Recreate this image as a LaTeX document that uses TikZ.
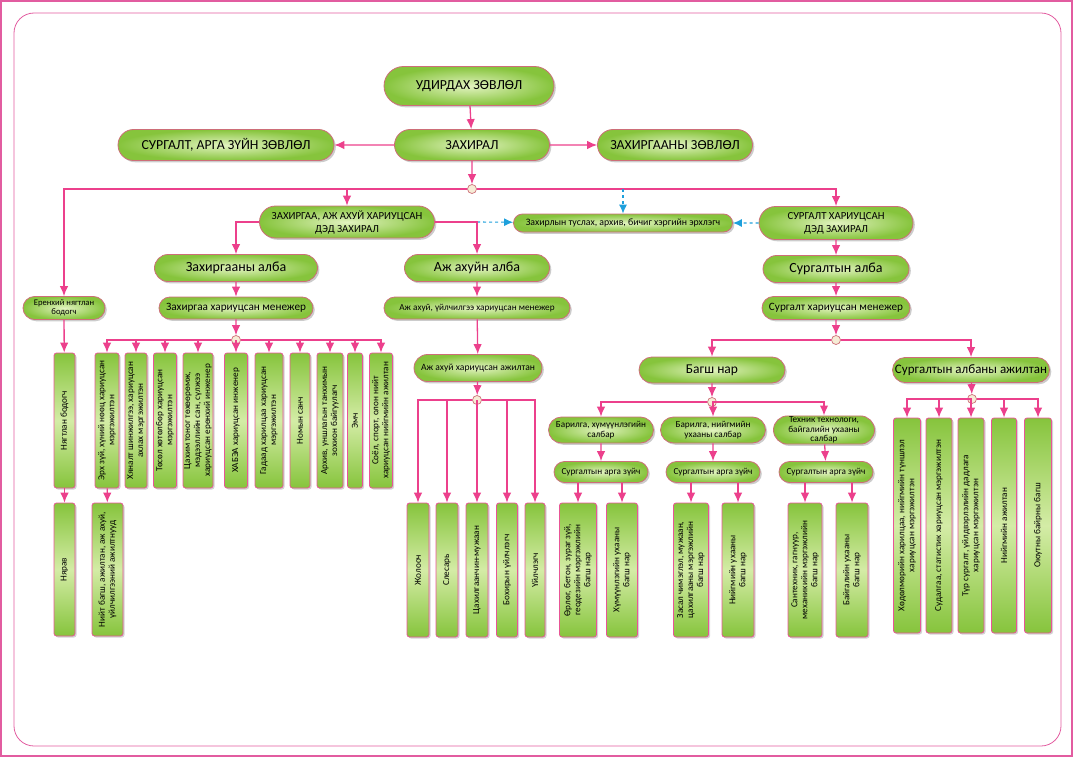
\documentclass[tikz,border=0pt]{standalone}
\usepackage{fontspec}
\setmainfont{Carlito}
\usetikzlibrary{arrows.meta,shapes.misc,shadows}

\definecolor{linkpink}{RGB}{236,64,140}
\definecolor{linkblue}{RGB}{30,160,220}
\definecolor{framepink}{RGB}{226,92,160}
\definecolor{pillrim}{RGB}{205,110,120}
\definecolor{boxrim}{RGB}{232,85,150}
\definecolor{greenout}{RGB}{134,196,60}
\definecolor{greenin}{RGB}{226,243,192}
\definecolor{greenmid}{RGB}{212,236,166}
\definecolor{knobfill}{RGB}{246,236,214}

\tikzset{
    fs/.style 2 args={font=\fontsize{#1}{#2}\selectfont},
    pill/.style={rounded rectangle, draw=pillrim, line width=0.8pt,
        inner color=greenin, outer color=greenout, align=center, inner sep=1pt,
        drop shadow={shadow xshift=1.8pt, shadow yshift=-1.8pt, opacity=0.4}},
    vbox/.style 2 args={rectangle, rounded corners=2.5pt, draw=boxrim, line width=0.8pt,
        top color=greenout, bottom color=greenout, middle color=greenmid,
        rotate=90, minimum width=#1, minimum height=#2, inner sep=0pt, align=center,
        font=\fontsize{9.2}{10}\selectfont,
        drop shadow={shadow xshift=1.5pt, shadow yshift=-1.5pt, opacity=0.35}},
    knob/.style={circle, draw=pillrim, fill=knobfill, line width=0.7pt, minimum size=9pt, inner sep=0pt},
    conn/.style={color=linkpink, line width=1.3pt, -{Latex[length=10pt,width=8.5pt]}},
    helper/.style={color=linkblue, line width=1.1pt, dashed, -{Latex[length=9pt,width=8pt]}},
}

\begin{document}
\begin{tikzpicture}[x=1pt,y=-1pt]
  \useasboundingbox (0,0) rectangle (1073,757);
  \draw[framepink, line width=1.6pt] (0.8,0.8) rectangle (1072.2,756.2);
  \draw[framepink, line width=0.8pt, rounded corners=20pt] (14,13) rectangle (1061,746);

  % top levels
  \node[pill, minimum width=172, minimum height=39, fs={13.8}{16}] (udird) at (469,86) {УДИРДАХ ЗӨВЛӨЛ};
  \node[pill, minimum width=157, minimum height=31, fs={13.8}{16}] (zaxiral) at (472,145) {ЗАХИРАЛ};
  \node[pill, minimum width=218, minimum height=31, fs={13.8}{16}] (argazuin) at (226,145) {СУРГАЛТ, АРГА ЗҮЙН ЗӨВЛӨЛ};
  \node[pill, minimum width=157, minimum height=31, fs={13.8}{16}] (zaxzovlol) at (675,145) {ЗАХИРГААНЫ ЗӨВЛӨЛ};
  \node[knob] (j0) at (472,189) {};

  \node[pill, minimum width=177, minimum height=32, fs={10.8}{13}] (zdz) at (347,222) {ЗАХИРГАА, АЖ АХУЙ ХАРИУЦСАН\\ДЭД ЗАХИРАЛ};
  \node[pill, minimum width=221, minimum height=18, fs={9.8}{11}] (tuslah) at (623,223) {Захирлын туслах, архив, бичиг хэргийн эрхлэгч};
  \node[pill, minimum width=156, minimum height=33, fs={10.8}{13}] (sdz) at (836,223) {СУРГАЛТ ХАРИУЦСАН\\ДЭД ЗАХИРАЛ};
  \coordinate (ct) at (tuslah |- j0);

  \node[pill, minimum width=84, minimum height=23, fs={8.6}{9.5}] (eren) at (64,308) {Еренхий нягтлан\\бодогч};
  \node[pill, minimum width=165, minimum height=27, fs={14}{15}] (zalba) at (236,268) {Захиргааны алба};
  \node[pill, minimum width=147, minimum height=27, fs={14}{15}] (aalba) at (477,268) {Аж ахуйн алба};
  \node[pill, minimum width=148, minimum height=27, fs={14}{15}] (salba) at (836,269) {Сургалтын алба};
  \node[pill, minimum width=156, minimum height=22, fs={11.2}{13}] (zmen) at (236,308) {Захиргаа хариуцсан менежер};
  \node[pill, minimum width=188, minimum height=22, fs={9.2}{11}] (amen) at (477,308) {Аж ахуй, үйлчилгээ хариуцсан менежер};
  \node[pill, minimum width=150, minimum height=23, fs={11.2}{13}] (smen) at (836,308) {Сургалт хариуцсан менежер};
  \coordinate (aturn) at (aalba |- zdz);

  \node[knob] (jz) at (236,340) {};
  \node[knob] (js) at (836,340) {};

  \node[pill, minimum width=130, minimum height=27, fs={9.6}{11}] (aaj) at (478,368) {Аж ахуй хариуцсан ажилтан};
  \node[pill, minimum width=148, minimum height=26, fs={13.5}{15}] (bagsh) at (712,370) {Багш нар};
  \node[pill, minimum width=159, minimum height=25, fs={13}{14}] (saj) at (971,370) {Сургалтын албаны ажилтан};
  \node[knob] (ja) at (477,400) {};
  \node[knob] (jb) at (712,402) {};
  \node[knob] (jr) at (972,399) {};

  \node[pill, minimum width=107, minimum height=26, fs={9.2}{10}] (sal1) at (601,430) {Барилга, хүмүүнлэгийн\\салбар};
  \node[pill, minimum width=107, minimum height=26, fs={9.2}{10}] (sal2) at (713,430) {Барилга, нийгмийн\\ухааны салбар};
  \node[pill, minimum width=103, minimum height=28, fs={9.2}{9.4}] (sal3) at (824,430) {Техник технологи,\\байгалийн ухааны\\салбар};
  \foreach \n/\x in {az1/601, az2/713, az3/826}
    \node[pill, minimum width=96, minimum height=21, fs={9.2}{10}] (\n) at (\x,472) {Сургалтын арга зүйч};

  % vertical boxes
  \node[vbox={135}{21}] (ng) at (64.5,420.5) {Нягтлан бодогч};
  \foreach \n/\x/\w/\t in {
      v1/107/24/{Эрх зүй, хүний нөөц хариуцсан\\мэргэжилтэн},
      v2/136/22/{Хяналт шинжилгээ, хариуцсан\\ахлах мэргэжилтэн},
      v3/165/23/{Төсөл хөтөлбөр хариуцсан\\мэргэжилтэн},
      v4/198/30/{Цахим тоног төхөөрөмж,\\мэдээллийн сан, сүлжээ\\хариуцсан ерөнхий инженер},
      v5/236/23/{ХАБЭА хариуцсан инженер},
      v6/269/28/{Гадаад харилцаа хариуцсан\\мэргэжилтэн},
      v7/300/20/{Номын санч},
      v8/330/26/{Архив, уншлагын танхимын\\зохион байгуулагч},
      v9/355/15/{Эмч},
      v10/381/23/{Соёл, спорт, олон нийт\\хариуцсан нийгмийн ажилтан}}
    \node[vbox={135}{\w}] (\n) at (\x,420.5) {\t};

  \node[vbox={133}{21}] (nyarav) at (64.5,569.5) {Нярав};
  \node[vbox={133}{31}] (niit) at (107.5,569.5) {Нийт багш, ажилтан, аж ахуй,\\үйлчилгээний ажилтнууд};

  \foreach \n/\x/\w/\t in {
      aa1/418/22/{Жолооч},
      aa2/447/22/{Слесарь},
      aa3/477/22/{Цахилгаанчин-мужаан},
      aa4/507/21/{Бохирын үйлчлэгч},
      aa5/535/20/{Үйлчлэгч},
      b1/578/37/{Өрлөг, бетон, зураг зүй,\\геодезийн мэргэжлийн\\багш нар},
      b2/622/31/{Хүмүүнлэгийн ухааны\\багш нар},
      b3/691/35/{Засал чимэглэл, мужаан,\\цахилгааны мэргэжлийн\\багш нар},
      b4/738/32/{Нийгмийн ухааны\\багш нар},
      b5/805/34/{Сантехник, гагнуур,\\механикийн мэргэжлийн\\багш нар},
      b6/852/32/{Байгалийн ухааны\\багш нар}}
    \node[vbox={134}{\w}] (\n) at (\x,570) {\t};

  \foreach \n/\x/\w/\t in {
      r1/907/27/{Хөдөлмөрийн харилцаа, нийгмийн түншлэл\\хариуцсан мэргэжилтэн},
      r2/939/26/{Судалгаа, статистик хариуцсан мэргэжилтэн},
      r3/971/26/{Түр сургалт, үйлдвэрлэлийн дадлага\\хариуцсан мэргэжилтэн},
      r4/1004/25/{Нийгмийн ажилтан},
      r5/1038/27/{Оюутны байрны багш}}
    \node[vbox={215}{\w}] (\n) at (\x,525.5) {\t};

  % connectors
  \path[conn]
    (udird) edge (zaxiral)
    (zaxiral) edge (argazuin)
    (zaxiral) edge (zaxzovlol)
    (zaxiral) edge (j0)
    (j0) edge[-] (ct);
  \foreach \n in {eren, zdz, sdz}
    \draw[conn] (j0) -| (\n);
  \draw[helper] (ct) -- (tuslah);
  \draw[helper] (aturn) -- (tuslah);
  \draw[helper] (sdz) -- (tuslah);

  \draw[conn] (zdz) -| (zalba);
  \draw[conn] (zdz) -| (aalba);
  \path[conn]
    (zalba) edge (zmen)
    (zmen) edge (jz)
    (aalba) edge (amen)
    (amen) edge (aaj)
    (aaj) edge (ja)
    (sdz) edge (salba)
    (salba) edge (smen)
    (smen) edge (js)
    (bagsh) edge (jb)
    (saj) edge (jr)
    (eren) edge (ng)
    (ng) edge (nyarav)
    (v1) edge (niit);

  \foreach \n in {v1,v2,v3,v4,v5,v6,v7,v8,v9,v10}
    \draw[conn] (jz) -| (\n);
  \foreach \n in {aa1,aa2,aa3,aa4,aa5}
    \draw[conn] (ja) -| (\n);
  \foreach \n in {bagsh, saj}
    \draw[conn] (js) -| (\n);
  \foreach \n in {sal1, sal2, sal3}
    \draw[conn] (jb) -| (\n);
  \foreach \a/\b in {sal1/az1, sal2/az2, sal3/az3}
    \draw[conn] (\a) -- (\b);
  \foreach \a/\b in {az1/b1, az1/b2, az2/b3, az2/b4, az3/b5, az3/b6}
    \draw[conn] (\b |- \a.south) -- (\b);
  \foreach \n in {r1,r2,r3,r4,r5}
    \draw[conn] (jr) -| (\n);
\end{tikzpicture}
\end{document}
